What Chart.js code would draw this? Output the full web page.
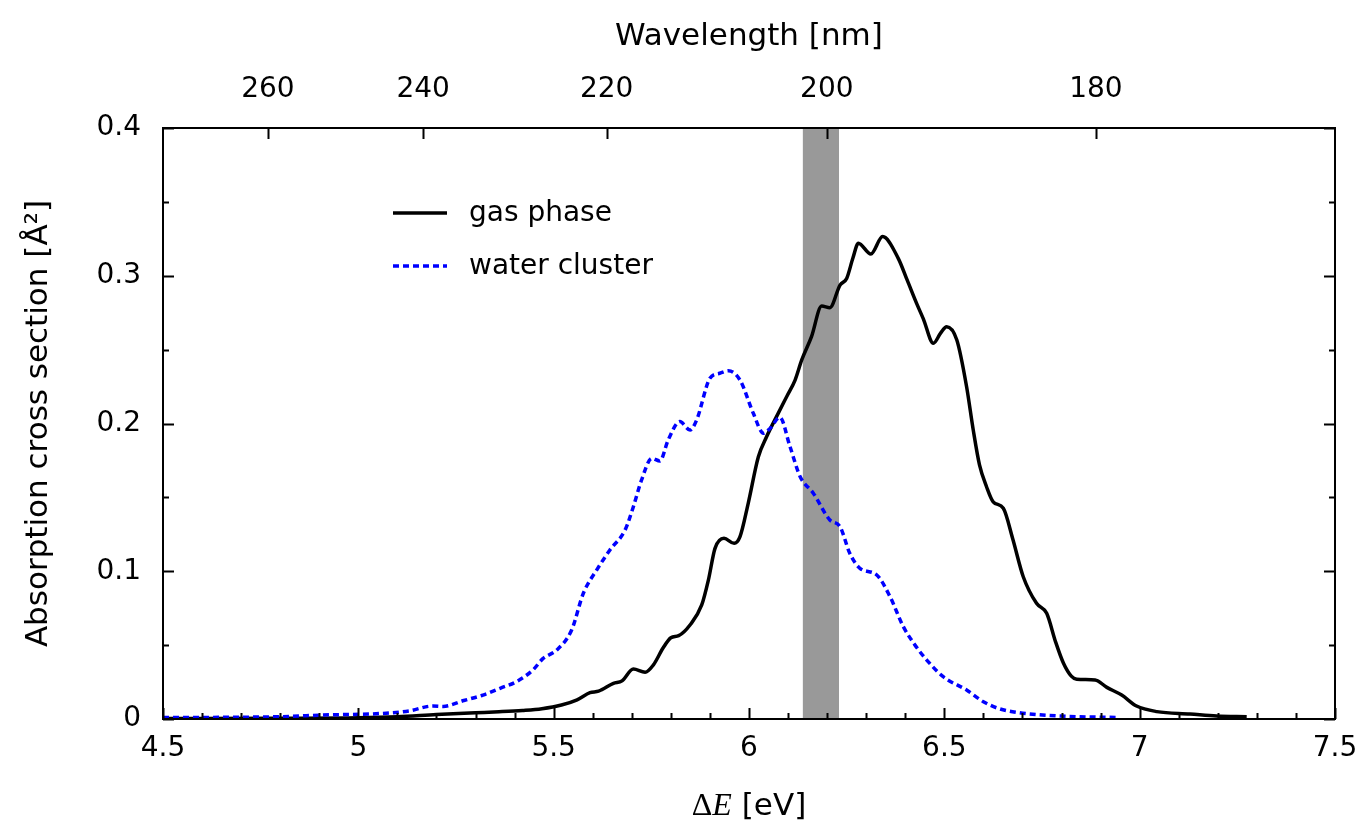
<!DOCTYPE html>
<html><head><meta charset="utf-8">
<script src="https://cdn.jsdelivr.net/npm/chart.js@4.4.1/dist/chart.umd.min.js"></script>
<style>html,body{margin:0;padding:0;background:#fff;} #wrap{width:1367px;height:827px;}</style>
</head><body><div id="wrap"><canvas id="c" width="1367" height="827"></canvas></div>
<script>
// ---- data ----
const gasE = [4.50,4.80,5.00,5.10,5.20,5.30,5.36,5.42,5.47,5.52,5.56,5.593,5.615,5.653,5.675,5.704,5.734,5.755,5.78,5.80,5.82,5.849,5.879,5.896,5.913,5.936,5.962,5.977,5.998,6.024,6.045,6.075,6.098,6.118,6.135,6.160,6.186,6.207,6.233,6.250,6.266,6.280,6.312,6.342,6.382,6.405,6.429,6.446,6.472,6.490,6.506,6.532,6.557,6.574,6.590,6.608,6.625,6.651,6.675,6.702,6.736,6.762,6.785,6.805,6.825,6.839,6.886,6.916,6.954,6.992,7.044,7.129,7.197,7.274];
const gasSigma = [0.0003,0.0005,0.0008,0.0015,0.003,0.0042,0.0049,0.0058,0.007,0.0095,0.013,0.0178,0.0188,0.0241,0.0258,0.0338,0.0316,0.0365,0.048,0.055,0.0564,0.0636,0.0772,0.094,0.1155,0.1223,0.1189,0.1234,0.146,0.1775,0.191,0.207,0.219,0.2294,0.243,0.2588,0.2795,0.2784,0.2937,0.2982,0.312,0.322,0.3147,0.3265,0.3118,0.297,0.2813,0.271,0.2543,0.261,0.2655,0.2565,0.2249,0.1956,0.172,0.1572,0.147,0.1426,0.122,0.0963,0.0783,0.0715,0.052,0.0377,0.029,0.0269,0.0264,0.0214,0.0162,0.0088,0.005,0.0034,0.002,0.0016];
const waterE = [4.50,4.70,4.807,4.91,5.063,5.13,5.191,5.217,5.27,5.319,5.363,5.405,5.447,5.473,5.508,5.546,5.576,5.610,5.644,5.683,5.704,5.725,5.751,5.772,5.793,5.823,5.849,5.866,5.900,5.925,5.947,5.977,6.011,6.037,6.055,6.079,6.105,6.131,6.165,6.207,6.233,6.258,6.284,6.327,6.361,6.395,6.425,6.455,6.497,6.557,6.600,6.640,6.685,6.796,6.941];
const waterSigma = [0.001,0.0012,0.0016,0.0027,0.0038,0.0055,0.0088,0.0085,0.0125,0.0162,0.0208,0.0253,0.0332,0.041,0.0467,0.0602,0.0851,0.1008,0.1144,0.128,0.1437,0.1618,0.1764,0.1746,0.1888,0.2013,0.1956,0.2024,0.2306,0.234,0.2357,0.2294,0.2069,0.1934,0.197,0.2042,0.1843,0.164,0.1527,0.1347,0.1302,0.1121,0.102,0.0975,0.0828,0.0625,0.05,0.0399,0.0286,0.0196,0.0117,0.007,0.0045,0.002,0.001];
const energyRange = [4.5, 7.5];
const sigmaRange = [0, 0.4];
const wavelengthTicks = [260, 240, 220, 200, 180];
const bandWavelengths = [202, 199];
const seriesLabels = ['gas phase', 'water cluster'];
const HC = 1239.84; // eV*nm

const FONT = "'DejaVu Sans', sans-serif";

const toPts = (xs, ys) => xs.map((x, i) => ({x: x, y: ys[i]}));

const framePlugin = {
  id: 'frame',
  beforeDatasetsDraw(chart) {
    const {ctx, chartArea: a, scales: {x}} = chart;
    const e1 = HC / bandWavelengths[0], e2 = HC / bandWavelengths[1];
    const p1 = x.getPixelForValue(e1), p2 = x.getPixelForValue(e2);
    ctx.save();
    ctx.fillStyle = '#999999';
    ctx.fillRect(p1, a.top, p2 - p1, a.bottom - a.top);
    ctx.restore();
  },
  afterDatasetsDraw(chart) {
    const {ctx, chartArea: a, scales: {x, x2, y}} = chart;
    ctx.save();
    ctx.strokeStyle = '#000';
    ctx.lineWidth = 2;
    ctx.beginPath();
    for (let i = 45; i <= 75; i++) {
      const px = Math.round(x.getPixelForValue(i / 10)) + 0.5;
      const len = (i % 5 === 0) ? 11 : 6;
      ctx.moveTo(px, a.bottom); ctx.lineTo(px, a.bottom - len);
    }
    wavelengthTicks.forEach(w => {
      const px = Math.round(x2.getPixelForValue(HC / w)) + 0.5;
      ctx.moveTo(px, a.top); ctx.lineTo(px, a.top + 11);
    });
    for (let i = 0; i <= 8; i++) {
      const py = Math.round(y.getPixelForValue(i * 0.05)) + 0.5;
      const len = (i % 2 === 0) ? 11 : 6;
      ctx.moveTo(a.left, py); ctx.lineTo(a.left + len, py);
      ctx.moveTo(a.right, py); ctx.lineTo(a.right - len, py);
    }
    ctx.stroke();
    ctx.lineWidth = 2;
    ctx.strokeRect(a.left, a.top, a.right - a.left, a.bottom - a.top);

    // legend
    const lx = a.left + 230, ly1 = a.top + 85, ly2 = a.top + 138;
    ctx.lineWidth = 3.5;
    ctx.beginPath(); ctx.moveTo(lx, ly1); ctx.lineTo(lx + 54, ly1); ctx.stroke();
    ctx.strokeStyle = '#0000ff';
    ctx.lineWidth = 3.5;
    ctx.setLineDash([6, 4]);
    ctx.beginPath(); ctx.moveTo(lx, ly2); ctx.lineTo(lx + 54, ly2); ctx.stroke();
    ctx.setLineDash([]);
    ctx.fillStyle = '#000';
    ctx.font = '28px ' + FONT;
    ctx.textBaseline = 'middle';
    ctx.textAlign = 'left';
    ctx.fillText(seriesLabels[0], lx + 76, ly1 + 1);
    ctx.fillText(seriesLabels[1], lx + 76, ly2 + 1);

    // x title: ΔE [eV]
    const parts = [
      {t: 'Δ', f: "32px 'Liberation Serif', serif"},
      {t: 'E', f: "italic 32px 'Liberation Serif', serif"},
      {t: ' [eV]', f: '31px ' + FONT}
    ];
    let total = 0;
    parts.forEach(p => { ctx.font = p.f; p.w = ctx.measureText(p.t).width; total += p.w; });
    let cx = (a.left + a.right) / 2 - total / 2;
    const ty = a.bottom + 88;
    parts.forEach(p => { ctx.font = p.f; ctx.fillText(p.t, cx, ty); cx += p.w; });
    ctx.restore();
  }
};

new Chart(document.getElementById('c'), {
  type: 'scatter',
  data: {
    datasets: [
      {label: seriesLabels[0], data: toPts(gasE, gasSigma), showLine: true, borderColor: '#000', borderWidth: 3.5,
       pointRadius: 0, cubicInterpolationMode: 'monotone', order: 1, xAxisID: 'x', yAxisID: 'y'},
      {label: seriesLabels[1], data: toPts(waterE, waterSigma), showLine: true, borderColor: '#0000ff', borderWidth: 3.5,
       borderDash: [6, 4], pointRadius: 0, cubicInterpolationMode: 'monotone', order: 0, xAxisID: 'x', yAxisID: 'y'}
    ]
  },
  options: {
    responsive: false, devicePixelRatio: 1, animation: false,
    layout: {padding: {left: 0, right: 32, top: 0, bottom: 0}},
    plugins: {legend: {display: false}, tooltip: {enabled: false}},
    scales: {
      x: {
        type: 'linear', position: 'bottom', min: energyRange[0], max: energyRange[1],
        grid: {display: false, drawTicks: false}, border: {display: false},
        ticks: {stepSize: 0.5, color: '#000', font: {family: FONT, size: 28}, padding: 13, maxRotation: 0,
                callback: v => String(v)},
        afterFit: s => { s.height = 108; s.paddingLeft = 0; s.paddingRight = 0; }
      },
      x2: {
        type: 'linear', position: 'top', min: energyRange[0], max: energyRange[1],
        grid: {display: false, drawTicks: false}, border: {display: false},
        afterBuildTicks: s => { s.ticks = wavelengthTicks.map(w => ({value: HC / w})); },
        ticks: {color: '#000', font: {family: FONT, size: 28}, padding: 21, maxRotation: 0,
                callback: v => String(Math.round(HC / v))},
        title: {display: true, text: 'Wavelength [nm]', color: '#000', font: {family: FONT, size: 31}, padding: {top: 18, bottom: 0}},
        afterFit: s => { s.height = 128; s.paddingLeft = 0; s.paddingRight = 0; }
      },
      y: {
        type: 'linear', position: 'left', min: sigmaRange[0], max: sigmaRange[1],
        grid: {display: false, drawTicks: false}, border: {display: false},
        ticks: {stepSize: 0.1, color: '#000', font: {family: FONT, size: 28}, padding: 22,
                callback: v => v === 0 ? '0' : v.toFixed(1)},
        title: {display: true, text: 'Absorption cross section [Å²]', color: '#000', font: {family: FONT, size: 31}, padding: {top: 20, bottom: 0}},
        afterFit: s => { s.width = 163; s.paddingTop = 0; s.paddingBottom = 0; }
      }
    }
  },
  plugins: [framePlugin]
});
</script></body></html>
